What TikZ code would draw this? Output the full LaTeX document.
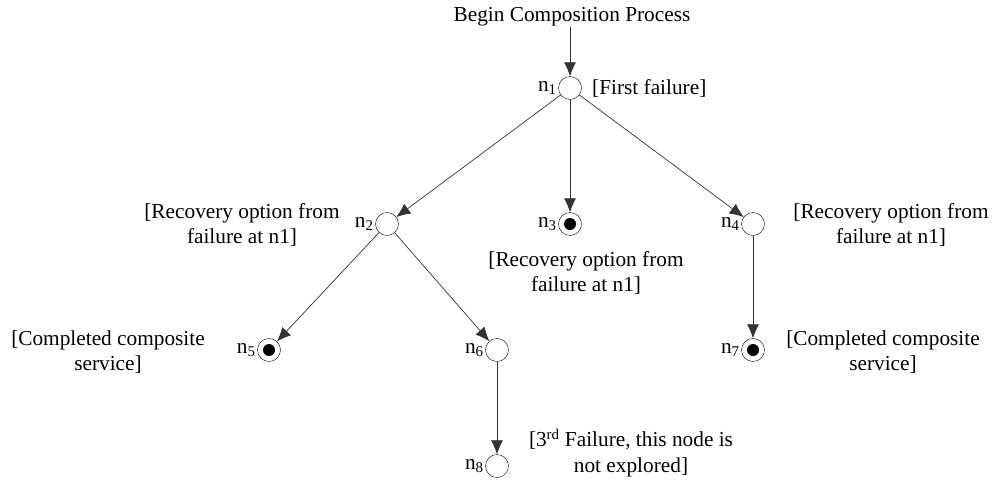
\documentclass[tikz,border=0pt]{standalone}
\usepackage{fontspec}
\setmainfont{Liberation Serif}
\usepackage{tikz}
\usetikzlibrary{arrows.meta,positioning}

\begin{document}
\begin{tikzpicture}[x=1pt,y=1pt,>={Latex[length=14pt,width=12pt]},
        font=\fontsize{21.3}{25.5}\selectfont,
        state/.style={circle,draw,thin,minimum size=23pt,inner sep=0pt},
        final/.style={state,path picture={\fill[black] (path picture bounding box.center) circle(6pt);}},
        nlabel/.style={label={[inner sep=1.5pt]left:#1}},
        note/.style={align=center,inner sep=0pt},
        edge/.style={->,draw=black!80,line width=0.7pt}]
        \useasboundingbox (0,0) rectangle (998,-483);

        % the start of the process
        \node[inner sep=0pt] (begin) at (572,-17) {Begin Composition Process};

        % the nodes of the tree
        \node[state,nlabel=n\textsubscript{1}] (n1) at (570,-88) {};
        \node[state,nlabel=n\textsubscript{2}] (n2) at (387,-224) {};
        \node[final,nlabel=n\textsubscript{3}] (n3) at (570,-224) {};
        \node[state,nlabel=n\textsubscript{4}] (n4) at (753,-224) {};
        \node[final,nlabel=n\textsubscript{5}] (n5) at (269,-350) {};
        \node[state,nlabel=n\textsubscript{6}] (n6) at (497,-350) {};
        \node[final,nlabel=n\textsubscript{7}] (n7) at (753,-350) {};
        \node[state,nlabel=n\textsubscript{8}] (n8) at (497,-466) {};

        % the notes beside the nodes
        \node[note,anchor=west] (f1) at (592,-88) {[First failure]};
        \node[note] (r2) at (242,-225) {[Recovery option from\\failure at n1]};
        \node[note] (r3) at (586,-273) {[Recovery option from\\failure at n1]};
        \node[note] (r4) at (891,-225) {[Recovery option from\\failure at n1]};
        \node[note] (c5) at (108,-352) {[Completed composite\\service]};
        \node[note] (c7) at (883,-352) {[Completed composite\\service]};
        \node[note] (x8) at (631,-453) {[3\textsuperscript{rd} Failure, this node is\\not explored]};

        % the connectors
        \draw[edge] (begin.south -| n1) -- (n1);
        \foreach \a/\b in {n1/n2,n1/n3,n1/n4,n2/n5,n2/n6,n4/n7,n6/n8}
                \draw[edge] (\a) -- (\b);
\end{tikzpicture}
\end{document}
